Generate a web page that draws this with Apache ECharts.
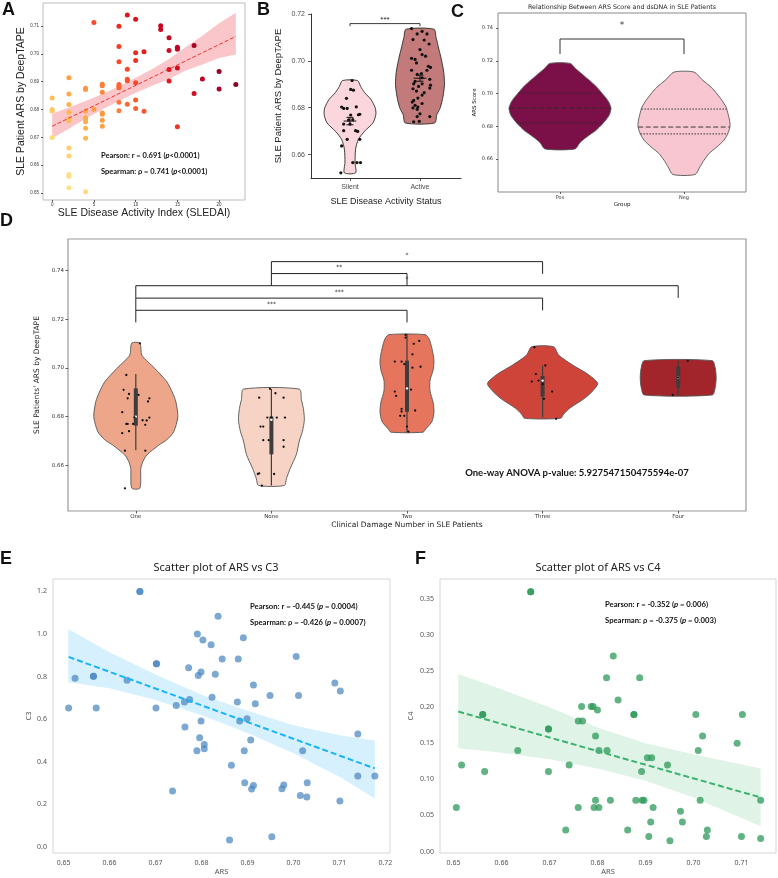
<!DOCTYPE html>
<html lang="en">
<head>
<meta charset="UTF-8">
<meta name="viewport" content="width=device-width, initial-scale=1.0">
<title>ARS panels</title>
<style>
  html, body { margin: 0; padding: 0; background: #fff; }
  #fig { width: 778px; height: 878px; }
</style>
</head>
<body>
<div id="fig"></div>
<script src="https://cdn.jsdelivr.net/npm/echarts@6/dist/echarts.min.js"></script>
<script>
// ---------- panel A : SLEDAI vs ARS ----------
var sledaiA = [0,0,0,0, 2,2,2,2,2,2,2,2,2,2,2, 4,4,4,4,4,4,4,4,4, 5,5, 6,6,6,6,6,6,6,
  8,8,8,8,8,8,8,8, 9,9,9,9,9, 10,10,10,10,10,10, 11,11, 13,13, 14,14,14,14,
  15,15,15,15, 17,17, 18, 20,20, 22];
var arsA = [0.6842,0.6800,0.6795,0.6700,
  0.6914,0.6856,0.6818,0.6790,0.6767,0.6760,0.6662,0.6633,0.6567,0.6560,0.6519,
  0.6877,0.6872,0.6795,0.6771,0.6765,0.6756,0.6733,0.6697,0.6505,
  0.7113,0.6801,
  0.6891,0.6886,0.6862,0.6788,0.6783,0.6762,0.6740,
  0.7099,0.7027,0.6972,0.6890,0.6884,0.6878,0.6826,0.6796,
  0.7140,0.6945,0.6909,0.6904,0.6819,
  0.7125,0.7004,0.6976,0.6896,0.6834,0.6804,
  0.7008,0.6794,
  0.7101,0.7088,
  0.7058,0.7012,0.6944,0.6903,
  0.7024,0.7017,0.6949,0.6738,
  0.7030,0.6858,
  0.6910,
  0.6937,0.6874,
  0.6890];
var fitXA = [0, 22];
var fitYA = [0.6740, 0.7063];
var bandXA  = [0, 2, 4, 6, 8, 10, 12, 14, 16, 18, 20, 22];
var bandLoA = [0.6697,0.6731,0.6767,0.6800,0.6831,0.6860,0.6886,0.6910,0.6940,0.6962,0.6985,0.6998];
var bandHiA = [0.6785,0.6807,0.6831,0.6856,0.6883,0.6914,0.6946,0.6982,0.7025,0.7065,0.7110,0.7148];
var ticksXA = [0, 5, 10, 15, 20];
var ticksYA = [0.65, 0.66, 0.67, 0.68, 0.69, 0.70, 0.71];

// ---------- panel B : silent vs active ----------
var groupsB = ['Slient', 'Active'];
var slientOff = [0.03,0.01,0.05,-0.05,-0.12,-0.04,-0.09,0.09,0.01,0.12,0.14,-0.02,0.04,-0.09,0.00,
  -0.09,0.08,0.11,-0.04,0.14,-0.12,0.04,0.10,0.15,-0.13];
var slientVal = [0.6916,0.6878,0.6875,0.6840,0.6803,0.6797,0.6797,0.6804,0.6769,0.6770,0.6772,0.6748,0.6749,0.6730,0.6730,
  0.6702,0.6702,0.6699,0.6665,0.6665,0.6637,0.6566,0.6566,0.6566,0.6522];
var activeOff = [-0.12,0.03,-0.04,0.10,-0.10,0.06,0.13,0.00,0.03,0.08,-0.12,-0.07,-0.05,0.12,0.15,0.10,-0.12,
  0.02,-0.04,0.03,0.14,-0.07,-0.09,0.03,0.15,0.14,-0.02,-0.10,-0.05,0.06,0.03,-0.03,-0.09,-0.11,0.03,-0.07,
  -0.03,-0.10,-0.04,0.00,-0.04,0.14,-0.09,-0.01];
var activeVal = [0.7138,0.7126,0.7115,0.7115,0.7091,0.7089,0.7072,0.7048,0.7027,0.7020,0.7011,0.7006,0.6991,0.6977,0.6972,0.6960,0.6960,
  0.6946,0.6942,0.6928,0.6921,0.6912,0.6902,0.6902,0.6896,0.6884,0.6891,0.6881,0.6871,0.6864,0.6854,0.6841,0.6831,0.6824,0.6818,0.6810,
  0.6803,0.6799,0.6793,0.6774,0.6762,0.6762,0.6740,0.6742];
var meanB = [0.6743, 0.6926];
var semB = [0.0016, 0.0013];
var slientLevels = [0.6916,0.6892,0.6864,0.6835,0.6800,0.6772,0.6736,0.6700,0.6665,0.6623,0.6566,0.6522];
var slientWidth  = [0.107,0.15,0.21,0.30,0.36,0.37,0.33,0.21,0.12,0.08,0.072,0.08];
var activeLevels = [0.7135,0.7100,0.7050,0.7000,0.6950,0.6900,0.6850,0.6800,0.6770,0.6735];
var activeWidth  = [0.20,0.23,0.27,0.31,0.34,0.35,0.33,0.29,0.24,0.21];
var ticksYB = [0.66, 0.68, 0.70, 0.72];
var sigB = {from: [0], to: [1], top: [0.7159], label: ['***']};

// ---------- panel C : dsDNA ----------
var groupsC = ['Pos', 'Neg'];
var posLevels = [0.7184,0.7150,0.7103,0.7050,0.7001,0.6955,0.6910,0.6865,0.6818,0.6775,0.6736,0.6700,0.6661];
var posWidth  = [0.081,0.129,0.202,0.282,0.339,0.387,0.411,0.395,0.347,0.290,0.218,0.161,0.121];
var negLevels = [0.7131,0.7085,0.7039,0.6998,0.6958,0.6917,0.6876,0.6838,0.6800,0.6758,0.6715,0.6674,0.6633,0.6592,0.6552,0.6505];
var negWidth  = [0.081,0.145,0.218,0.266,0.306,0.339,0.355,0.367,0.371,0.355,0.323,0.266,0.202,0.161,0.129,0.089];
var quartPos = [0.6820, 0.6910, 0.7003];
var quartNeg = [0.6753, 0.6795, 0.6905];
var ticksYC = [0.66, 0.68, 0.70, 0.72, 0.74];
var sigC = {from: [0], to: [1], top: [0.7333], label: ['*']};

// ---------- panel D : clinical damage ----------
var groupsD = ['One', 'None', 'Two', 'Three', 'Four'];
var levelsD = [
  [0.7102,0.7053,0.7026,0.6998,0.6943,0.6895,0.6862,0.6800,0.6738,0.6705,0.6683,0.6642,0.6615,0.6587,0.6506],
  [0.6913,0.6870,0.6833,0.6787,0.6740,0.6700,0.6644,0.6589,0.6545,0.6517],
  [0.7137,0.7120,0.7080,0.7030,0.6990,0.6950,0.6905,0.6860,0.6820,0.6780,0.6750,0.6736],
  [0.7087,0.7053,0.7012,0.6975,0.6937,0.6905,0.6875,0.6834,0.6810,0.6793],
  [0.7030,0.7000,0.6960,0.6920,0.6889]
];
var widthsD = [
  [0.030,0.044,0.088,0.140,0.229,0.273,0.295,0.310,0.280,0.229,0.170,0.081,0.052,0.037,0.030],
  [0.206,0.221,0.236,0.243,0.229,0.206,0.184,0.140,0.111,0.096],
  [0.133,0.162,0.184,0.199,0.192,0.170,0.170,0.192,0.199,0.184,0.140,0.118],
  [0.081,0.118,0.221,0.332,0.406,0.369,0.310,0.199,0.155,0.133],
  [0.251,0.273,0.280,0.273,0.251]
];
var whiskLoD = [0.6662, 0.6517, 0.6736, 0.6797, 0.6889];
var q1D      = [0.6763, 0.6645, 0.6820, 0.6882, 0.6919];
var medianD  = [0.6800, 0.6787, 0.6916, 0.6948, 0.6960];
var q3D      = [0.6916, 0.6800, 0.7030, 0.6967, 0.7005];
var whiskHiD = [0.6975, 0.6913, 0.7140, 0.7010, 0.7030];
var jitterGroupD = [0,0,0,0,0,0,0,0,0,0,0,0,0,0,0,0,0,0,0,0,0,0,
  1,1,1,1,1,1,1,1,1,1,1,1,1,1,1,1,1,1,
  2,2,2,2,2,2,2,2,2,2,2,2,2,2,2,2,2,2,2,2,
  3,3,3,3,3,3,3,3,3, 4,4,4];
var jitterOffD = [0.03,-0.07,-0.09,-0.05,0.02,-0.06,0.10,0.09,-0.10,-0.01,0.10,0.05,0.08,-0.07,-0.06,-0.02,0.07,-0.10,-0.05,-0.08,0.07,-0.08,
  -0.01,-0.09,0.03,0.09,-0.03,0.00,0.04,0.10,-0.08,-0.06,-0.02,-0.06,0.09,0.09,-0.10,-0.09,0.02,-0.07,
  -0.01,-0.01,0.09,0.05,0.04,-0.09,-0.04,-0.02,0.10,0.04,-0.09,-0.08,0.03,-0.04,-0.04,-0.05,-0.02,0.06,0.00,0.01,
  -0.06,0.02,-0.05,-0.08,-0.03,0.00,0.07,0.01,0.10, 0.07,0.00,-0.04];
var jitterValD = [0.7101,0.6971,0.6910,0.6893,0.6889,0.6875,0.6875,0.6862,0.6818,0.6797,0.6796,0.6785,0.6784,0.6770,0.6770,0.6770,0.6766,0.6732,0.6740,0.6660,0.6660,0.6505,
  0.6914,0.6878,0.6896,0.6878,0.6796,0.6797,0.6796,0.6796,0.6759,0.6759,0.6703,0.6703,0.6703,0.6676,0.6564,0.6567,0.6564,0.6516,
  0.7136,0.7125,0.7111,0.7099,0.7056,0.7026,0.7026,0.7016,0.7005,0.7001,0.6903,0.6885,0.6911,0.6832,0.6821,0.6803,0.6803,0.6825,0.6759,0.6738,
  0.7085,0.7010,0.6975,0.6944,0.6948,0.6934,0.6903,0.6873,0.6791, 0.7029,0.6960,0.6889];
var sigD = {
  from:  [0, 0, 0, 1, 1],
  to:    [2, 3, 4, 2, 3],
  top:   [0.7237, 0.7287, 0.7338, 0.7388, 0.7437],
  label: ['***', '***', '*', '**', '*']
};
var ticksYD = [0.66, 0.68, 0.70, 0.72, 0.74];

// ---------- panel E : ARS vs C3 ----------
var arsE = [0.6511,0.6525,0.6565,0.6565,0.6571,0.6638,0.6666,0.6666,0.6702,0.6702,0.6701,0.6737,0.6745,0.6764,0.6763,0.6772,
  0.6774,0.6790,0.6791,0.6793,0.6796,0.6799,0.6799,0.6803,0.6806,0.6806,0.6821,0.6823,0.6830,0.6836,0.6845,0.6861,
  0.6865,0.6878,0.6880,0.6883,0.6891,0.6894,0.6893,0.6899,0.6907,0.6909,0.6913,0.6913,0.6917,0.6949,0.6953,0.6975,
  0.6979,0.7006,0.7011,0.7015,0.7020,0.7029,0.7030,0.7090,0.7102,0.7101,0.7140,0.7140,0.7177];
var c3E = [0.653,0.792,0.802,0.802,0.653,0.783,1.200,1.200,0.861,0.861,0.653,0.263,0.664,0.563,0.681,0.842,
  0.692,0.452,1.000,0.805,0.513,0.822,0.591,0.972,0.461,0.481,0.950,0.703,0.811,1.083,0.883,0.033,
  0.384,0.681,0.883,0.592,0.983,0.302,0.452,0.602,0.502,0.272,0.289,0.761,0.672,0.711,0.048,0.273,
  0.291,0.894,0.711,0.241,0.452,0.234,0.302,0.770,0.733,0.216,0.531,0.333,0.333];
var fitXE = [0.6511, 0.7177];
var fitYE = [0.8925, 0.3688];
var bandXE  = [0.651, 0.66, 0.67, 0.68, 0.69, 0.70, 0.71, 0.7177];
var bandLoE = [0.773, 0.745, 0.690, 0.618, 0.535, 0.440, 0.330, 0.227];
var bandHiE = [1.024, 0.915, 0.810, 0.715, 0.640, 0.572, 0.525, 0.500];
var ticksXE = [0.65, 0.66, 0.67, 0.68, 0.69, 0.70, 0.71, 0.72];
var ticksYE = [0.0, 0.2, 0.4, 0.6, 0.8, 1.0, 1.2];

// ---------- panel F : ARS vs C4 ----------
var arsF = [0.6506,0.6517,0.6561,0.6561,0.6565,0.6634,0.6661,0.6661,0.6698,0.6698,0.6698,0.6734,0.6741,0.6760,0.6760,0.6767,
  0.6769,0.6787,0.6791,0.6796,0.6796,0.6793,0.6800,0.6803,0.6803,0.6819,0.6820,0.6827,0.6833,0.6843,0.6863,0.6876,
  0.6876,0.6880,0.6888,0.6892,0.6893,0.6897,0.6904,0.6907,0.6911,0.6913,0.6916,0.6946,0.6951,0.6973,0.6977,0.7005,
  0.7010,0.7014,0.7019,0.7029,0.7027,0.7091,0.7100,0.7102,0.7140,0.7140];
var c4F = [0.061,0.120,0.190,0.190,0.111,0.140,0.360,0.360,0.170,0.170,0.111,0.030,0.120,0.181,0.061,0.201,
  0.181,0.201,0.201,0.160,0.071,0.061,0.196,0.140,0.061,0.241,0.140,0.071,0.271,0.210,0.030,0.190,
  0.190,0.071,0.241,0.111,0.071,0.071,0.130,0.021,0.041,0.130,0.061,0.120,0.015,0.056,0.041,0.190,
  0.140,0.071,0.160,0.030,0.021,0.150,0.021,0.190,0.071,0.018];
var fitXF = [0.651, 0.714];
var fitYF = [0.194, 0.075];
var bandXF  = [0.651, 0.66, 0.67, 0.68, 0.69, 0.70, 0.714];
var bandLoF = [0.143, 0.137, 0.128, 0.115, 0.098, 0.075, 0.035];
var bandHiF = [0.246, 0.225, 0.200, 0.172, 0.150, 0.135, 0.115];
var ticksXF = [0.65, 0.66, 0.67, 0.68, 0.69, 0.70, 0.71];
var ticksYF = [0.00, 0.05, 0.10, 0.15, 0.20, 0.25, 0.30, 0.35];

// ---------- drawing ----------
var SANS = 'Liberation Sans, Arial, sans-serif';
var DV = 'DejaVu Sans, sans-serif';
var NS = 'Noto Sans, sans-serif';
var BOLD = 'Lato, Noto Sans, sans-serif';

var ylorrd = ['#ffeda0','#fed976','#feb24c','#fd8d3c','#fc4e2a','#e31a1c','#bd0026','#800026'];
function hex(c) { return [parseInt(c.substr(1,2),16), parseInt(c.substr(3,2),16), parseInt(c.substr(5,2),16)]; }
function ramp(t) {
  t = Math.max(0, Math.min(1, t)) * (ylorrd.length - 1);
  var i = Math.min(Math.floor(t), ylorrd.length - 2), f = t - i;
  var a = hex(ylorrd[i]), b = hex(ylorrd[i + 1]);
  return 'rgb(' + a.map(function (v, k) { return Math.round(v + f * (b[k] - v)); }).join(',') + ')';
}

function zip(xs, ys) { return xs.map(function (x, i) { return [x, ys[i]]; }); }

function axis(o) {
  return {
    gridIndex: o.grid, type: 'value', min: o.min, max: o.max,
    splitLine: { show: false },
    axisLine: { show: !!o.line, onZero: false, lineStyle: { color: '#333', width: 1 } },
    axisTick: { show: o.tick > 0, length: o.tick, customValues: o.ticks, lineStyle: { color: '#333', width: 0.8 } },
    axisLabel: { customValues: o.ticks, formatter: o.fmt, fontSize: o.size, fontFamily: o.font,
      color: o.color || '#333', margin: o.margin },
    name: o.name, nameLocation: 'middle', nameGap: o.nameGap, nameRotate: o.rot || 0,
    nameTextStyle: { fontSize: o.nameSize, fontFamily: o.font, color: o.nameColor || '#222' }
  };
}

function widthAt(levels, widths, v) {
  for (var i = 0; i < levels.length - 1; i++) {
    if (v <= levels[i] && v >= levels[i + 1]) {
      var t = (levels[i] - v) / (levels[i] - levels[i + 1]);
      return widths[i] + t * (widths[i + 1] - widths[i]);
    }
  }
  return 0;
}

function violinPts(api, cx, levels, widths) {
  var r = [], l = [];
  for (var i = 0; i < levels.length; i++) {
    r.push(api.coord([cx + widths[i], levels[i]]));
    l.push(api.coord([cx - widths[i], levels[i]]));
  }
  return r.concat(l.reverse());
}

function violinSeries(xi, levels, widths, colors, stroke) {
  return {
    type: 'custom', xAxisIndex: xi, yAxisIndex: xi, z: 2,
    data: levels.map(function (lv, i) { return [i, lv[0]]; }),
    renderItem: function (params, api) {
      var i = params.dataIndex;
      return { type: 'polygon', shape: { points: violinPts(api, i, levels[i], widths[i]), smooth: 0.25 },
        style: { fill: colors[i], stroke: stroke, lineWidth: 0.9 } };
    }
  };
}

function bracketSeries(xi, sig, drop, opt) {
  return {
    type: 'custom', xAxisIndex: xi, yAxisIndex: xi, z: 5,
    data: sig.from.map(function (f, i) { return [f, sig.top[i]]; }),
    renderItem: function (params, api) {
      var i = params.dataIndex;
      var a = api.coord([sig.from[i], sig.top[i] - drop]), b = api.coord([sig.from[i], sig.top[i]]);
      var c = api.coord([sig.to[i], sig.top[i]]), d = api.coord([sig.to[i], sig.top[i] - drop]);
      return { type: 'group', children: [
        { type: 'polyline', shape: { points: [a, b, c, d] }, style: { stroke: opt.color, lineWidth: opt.lw, fill: null } },
        { type: 'text', x: (b[0] + c[0]) / 2, y: b[1] - opt.gap,
          style: { text: sig.label[i], align: 'center', verticalAlign: 'middle', fontSize: opt.size,
            fontFamily: opt.font, fill: opt.color } }
      ] };
    }
  };
}

function bandSeries(xi, xs, lo, hi, fill) {
  return {
    type: 'custom', xAxisIndex: xi, yAxisIndex: xi, z: 1,
    data: [[xs[0], lo[0]]],
    renderItem: function (params, api) {
      var pts = [];
      for (var i = 0; i < xs.length; i++) pts.push(api.coord([xs[i], hi[i]]));
      for (var j = xs.length - 1; j >= 0; j--) pts.push(api.coord([xs[j], lo[j]]));
      return { type: 'polygon', shape: { points: pts }, style: { fill: fill } };
    }
  };
}

function fitSeries(xi, xs, ys, color, w, dash) {
  return { type: 'line', xAxisIndex: xi, yAxisIndex: xi, z: 4, data: zip(xs, ys), symbol: 'none',
    lineStyle: { color: color, width: w, type: dash }, silent: true };
}

var f2 = function (v) { return v.toFixed(2); };
var f1 = function (v) { return v.toFixed(1); };

var grids = [
  { left: 43, top: 3, width: 202, height: 197, show: true, borderColor: '#bdbdbd', borderWidth: 1 },
  { left: 311, top: 14, width: 150, height: 164 },
  { left: 498, top: 13, width: 248, height: 179, show: true, borderColor: '#888', borderWidth: 1 },
  { left: 68, top: 239, width: 678, height: 272, show: true, borderColor: '#999', borderWidth: 1.2 },
  { left: 53, top: 579, width: 337, height: 274, show: true, borderColor: '#d6d6d6', borderWidth: 1 },
  { left: 440, top: 579, width: 336, height: 274, show: true, borderColor: '#d6d6d6', borderWidth: 1 }
].map(function (g) { g.outerBoundsMode = 'none'; g.containLabel = false; return g; });

var xAxes = [
  axis({ grid: 0, min: -1.1, max: 23.1, ticks: ticksXA, fmt: function (v) { return String(v); }, size: 4.5, font: SANS,
    margin: 2, tick: 2, name: 'SLE Disease Activity Index (SLEDAI)', nameGap: 8, nameSize: 10.5 }),
  axis({ grid: 1, min: -0.557, max: 1.586, ticks: [0, 1], fmt: function (v) { return groupsB[v]; }, size: 7, font: SANS,
    color: '#4d4d4d', margin: 6, tick: 3, line: true, name: 'SLE Disease Activity Status', nameGap: 19, nameSize: 9 }),
  axis({ grid: 2, min: -0.5, max: 1.5, ticks: [0, 1], fmt: function (v) { return groupsC[v]; }, size: 5, font: DV,
    margin: 3, tick: 2, name: 'Group', nameGap: 10, nameSize: 5.5 }),
  axis({ grid: 3, min: -0.5, max: 4.5, ticks: [0, 1, 2, 3, 4], fmt: function (v) { return groupsD[v]; }, size: 5.5, font: DV,
    margin: 3, tick: 2.5, name: 'Clinical Damage Number in SLE Patients', nameGap: 8, nameSize: 7.5 }),
  axis({ grid: 4, min: 0.6477, max: 0.7210, ticks: ticksXE, fmt: f2, size: 7, font: NS, color: '#555',
    margin: 6, tick: 0, name: 'ARS', nameGap: 15, nameSize: 7.5, nameColor: '#555' }),
  axis({ grid: 5, min: 0.6472, max: 0.7172, ticks: ticksXF, fmt: f2, size: 7, font: NS, color: '#555',
    margin: 6, tick: 0, name: 'ARS', nameGap: 15, nameSize: 7.5, nameColor: '#555' })
];
var yAxes = [
  axis({ grid: 0, min: 0.6475, max: 0.7183, ticks: ticksYA, fmt: f2, size: 4.5, font: SANS,
    margin: 4, tick: 2, name: 'SLE Patient ARS by DeepTAPE', nameGap: 11, nameSize: 10.5, rot: 90 }),
  axis({ grid: 1, min: 0.65, max: 0.72, ticks: ticksYB, fmt: f2, size: 7, font: SANS, color: '#4d4d4d',
    margin: 6, tick: 3, line: true, name: 'SLE Patient ARS by DeepTAPE', nameGap: 28, nameSize: 9.5, rot: 90 }),
  axis({ grid: 2, min: 0.6398, max: 0.7492, ticks: ticksYC, fmt: f2, size: 5, font: DV,
    margin: 5, tick: 2, name: 'ARS Score', nameGap: 19, nameSize: 5.5, rot: 90 }),
  axis({ grid: 3, min: 0.6412, max: 0.7530, ticks: ticksYD, fmt: f2, size: 5.5, font: DV,
    margin: 4, tick: 2.5, name: "SLE Patients' ARS by DeepTAPE", nameGap: 21, nameSize: 7.5, rot: 90 }),
  axis({ grid: 4, min: -0.0285, max: 1.2585, ticks: ticksYE, fmt: f1, size: 7, font: NS, color: '#555',
    margin: 6, tick: 0, name: 'C3', nameGap: 20, nameSize: 7.5, nameColor: '#555', rot: 90 }),
  axis({ grid: 5, min: -0.002, max: 0.3777, ticks: ticksYF, fmt: f2, size: 7, font: NS, color: '#555',
    margin: 6, tick: 0, name: 'C4', nameGap: 25, nameSize: 7.5, nameColor: '#555', rot: 90 })
];

var series = [];

// A
series.push(bandSeries(0, bandXA, bandLoA, bandHiA, '#fbc6c9'));
series.push({
  type: 'scatter', xAxisIndex: 0, yAxisIndex: 0, z: 3, symbolSize: 5,
  data: zip(sledaiA, arsA),
  itemStyle: { opacity: 1, color: function (p) {
    return ramp(0.7 * p.data[0] / 22 + 0.45 * (p.data[1] - 0.65) / 0.065);
  } }
});
series.push(fitSeries(0, fitXA, fitYA, '#f03030', 1, [4, 2]));

// B
var violinLevelsB = [slientLevels, activeLevels], violinWidthsB = [slientWidth, activeWidth];
series.push(violinSeries(1, violinLevelsB, violinWidthsB, ['#fbd6dc', '#c27b7a'], '#2b2b2b'));
series.push({
  type: 'scatter', xAxisIndex: 1, yAxisIndex: 1, z: 3, symbolSize: 3.2, itemStyle: { color: '#111', opacity: 1 },
  data: zip(slientOff, slientVal).concat(activeOff.map(function (o, i) { return [1 + o, activeVal[i]]; }))
});
series.push({
  type: 'custom', xAxisIndex: 1, yAxisIndex: 1, z: 4,
  data: meanB.map(function (m, i) { return [i, m]; }),
  renderItem: function (params, api) {
    var i = params.dataIndex, m = meanB[i], s = semB[i];
    var segs = [[i - 0.09, m, i + 0.09, m], [i, m - s, i, m + s],
      [i - 0.05, m - s, i + 0.05, m - s], [i - 0.05, m + s, i + 0.05, m + s]];
    return { type: 'group', children: segs.map(function (g) {
      var a = api.coord([g[0], g[1]]), b = api.coord([g[2], g[3]]);
      return { type: 'line', shape: { x1: a[0], y1: a[1], x2: b[0], y2: b[1] }, style: { stroke: '#111', lineWidth: 1 } };
    }) };
  }
});
series.push(bracketSeries(1, sigB, 0.0011, { color: '#222', lw: 0.9, gap: 4, size: 8, font: SANS }));

// C
var violinLevelsC = [posLevels, negLevels], violinWidthsC = [posWidth, negWidth];
var quartC = [quartPos, quartNeg];
series.push(violinSeries(2, violinLevelsC, violinWidthsC, ['#7b1048', '#f7c6d0'], '#555'));
series.push({
  type: 'custom', xAxisIndex: 2, yAxisIndex: 2, z: 3,
  data: quartC.map(function (q, i) { return [i, q[1]]; }),
  renderItem: function (params, api) {
    var i = params.dataIndex, kids = [];
    quartC[i].forEach(function (q, k) {
      var w = widthAt(violinLevelsC[i], violinWidthsC[i], q);
      var a = api.coord([i - w, q]), b = api.coord([i + w, q]);
      kids.push({ type: 'line', shape: { x1: a[0], y1: a[1], x2: b[0], y2: b[1] },
        style: { stroke: '#2a2a2a', lineWidth: 0.9, lineDash: k === 1 ? [5, 2.5] : [1.6, 1.4] } });
    });
    return { type: 'group', children: kids };
  }
});
series.push(bracketSeries(2, sigC, 0.0092, { color: '#333', lw: 1, gap: 13, size: 9, font: DV }));

// D
series.push(violinSeries(3, levelsD, widthsD, ['#eea68b', '#f6d3c4', '#e5755d', '#cf4439', '#a1252b'], '#555'));
series.push({
  type: 'custom', xAxisIndex: 3, yAxisIndex: 3, z: 3,
  data: medianD.map(function (m, i) { return [i, m]; }),
  renderItem: function (params, api) {
    var i = params.dataIndex;
    var lo = api.coord([i, whiskLoD[i]]), hi = api.coord([i, whiskHiD[i]]);
    var q1 = api.coord([i, q1D[i]]), q3 = api.coord([i, q3D[i]]), md = api.coord([i, medianD[i]]);
    return { type: 'group', children: [
      { type: 'line', shape: { x1: lo[0], y1: lo[1], x2: hi[0], y2: hi[1] }, style: { stroke: '#3d3d3d', lineWidth: 1.2 } },
      { type: 'rect', shape: { x: q1[0] - 2, y: q3[1], width: 4, height: q1[1] - q3[1] }, style: { fill: '#3d3d3d' } },
      { type: 'circle', shape: { cx: md[0], cy: md[1], r: 1.2 }, style: { fill: '#fff' } }
    ] };
  }
});
series.push({
  type: 'scatter', xAxisIndex: 3, yAxisIndex: 3, z: 4, symbolSize: 2.3, itemStyle: { color: '#111', opacity: 1 },
  data: jitterGroupD.map(function (g, i) { return [g + jitterOffD[i], jitterValD[i]]; })
});
series.push(bracketSeries(3, sigD, 0.005, { color: '#222', lw: 1, gap: 6, size: 6, font: DV }));

// E
series.push(bandSeries(4, bandXE, bandLoE, bandHiE, '#d6f1fd'));
series.push({ type: 'scatter', xAxisIndex: 4, yAxisIndex: 4, z: 3, symbolSize: 7,
  itemStyle: { color: '#4a86c0', opacity: 0.72 }, data: zip(arsE, c3E) });
series.push(fitSeries(4, fitXE, fitYE, '#19b4f5', 2, [6, 3]));

// F
series.push(bandSeries(5, bandXF, bandLoF, bandHiF, '#e0f3e7'));
series.push({ type: 'scatter', xAxisIndex: 5, yAxisIndex: 5, z: 3, symbolSize: 7,
  itemStyle: { color: '#2e9a5a', opacity: 0.75 }, data: zip(arsF, c4F) });
series.push(fitSeries(5, fitXF, fitYF, '#3cb371', 2, [6, 3]));

// text
function txt(x, y, text, size, font, extra) {
  var st = { text: text, fontSize: size, fontFamily: font, fill: '#111', align: 'left', verticalAlign: 'middle' };
  for (var k in extra) st[k] = extra[k];
  return { type: 'text', x: x, y: y, style: st, z: 100 };
}
function stat(x, y, head, tail, size) {
  return txt(x, y, '{b|' + head + '}{i|p}{b|' + tail + '}', size, BOLD, {
    rich: { b: { fontSize: size, fontFamily: BOLD, fontWeight: 'bold', fill: '#111' },
            i: { fontSize: size, fontFamily: BOLD, fontWeight: 'bold', fontStyle: 'italic', fill: '#111' } }
  });
}
var letter = { fontWeight: 'bold', verticalAlign: 'top' };
var graphics = [
  txt(2, 1, 'A', 18, SANS, letter),
  txt(257, 1, 'B', 18, SANS, letter),
  txt(451, 3, 'C', 18, SANS, letter),
  txt(0, 212, 'D', 18, SANS, letter),
  txt(0, 550, 'E', 18, SANS, letter),
  txt(415, 550, 'F', 18, SANS, letter),
  stat(101, 155.5, 'Pearson: r = 0.691 (', '<0.0001)', 7.5),
  stat(101, 172, 'Spearman: \u03c1 = 0.741 (', '<0.0001)', 7.5),
  txt(622, 7, 'Relationship Between ARS Score and dsDNA in SLE Patients', 6.3, DV, { align: 'center', fill: '#222' }),
  txt(577, 473, 'One-way ANOVA p-value: 5.927547150475594e-07', 9.5, BOLD, { align: 'center', fontWeight: 'bold' }),
  txt(216, 568, 'Scatter plot of ARS vs C3', 11, NS, { align: 'center', fill: '#222' }),
  txt(598, 568, 'Scatter plot of ARS vs C4', 11, NS, { align: 'center', fill: '#222' }),
  stat(250, 606.5, 'Pearson: r = -0.445 (', ' = 0.0004)', 7.7),
  stat(250, 622.5, 'Spearman: \u03c1 = -0.426 (', ' = 0.0007)', 7.7),
  stat(605, 605, 'Pearson: r = -0.352 (', ' = 0.006)', 7.7),
  stat(605, 621, 'Spearman: \u03c1 = -0.375 (', ' = 0.003)', 7.7)
];

var chart = echarts.init(document.getElementById('fig'), null, { renderer: 'canvas' });
chart.setOption({
  animation: false,
  backgroundColor: '#fff',
  grid: grids,
  xAxis: xAxes,
  yAxis: yAxes,
  series: series,
  graphic: { elements: graphics }
});
window.addEventListener('resize', chart.resize);
</script>
</body>
</html>
